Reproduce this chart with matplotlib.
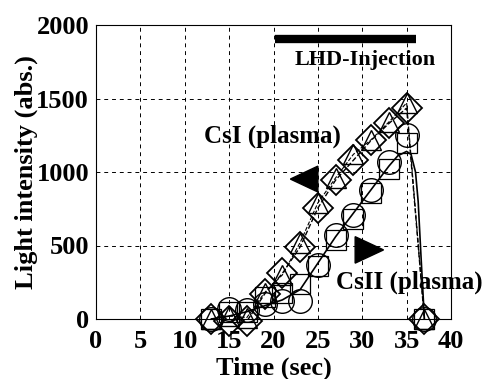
import numpy as np
import matplotlib
matplotlib.use("Agg")
import matplotlib.pyplot as plt

plt.rcParams['font.family'] = ['Liberation Serif', 'DejaVu Serif']
plt.rcParams['font.weight'] = 'bold'

t = [13, 15, 17, 19, 21, 23, 25, 27, 29, 31, 33, 35, 37]

# CsI (plasma)
csi_diamond = [0, -15, -15, 170, 310, 490, 755, 945, 1080, 1215, 1330, 1435, 0]
csi_triangle = [0, 20, 10, 180, 300, 520, 790, 960, 1120, 1220, 1340, 1470, 0]

# CsII (plasma)
csii_circle = [0, 70, 60, 100, 120, 120, 370, 570, 710, 880, 1070, 1250, 0]
csii_square = [0, 50, 50, 150, 180, 240, 360, 540, 680, 860, 1020, 1200, 0]

# smooth fit through CsII
fit_t = [13, 15, 17, 19, 21, 23, 25, 27, 29, 31, 33, 34, 35, 35.5, 36, 36.3, 36.6, 37]
fit_y = [0, 20, 50, 90, 130, 200, 380, 560, 720, 880, 1040, 1110, 1140, 1120, 1000, 800, 450, 0]

bar_start, bar_end, bar_y = 20.2, 36.1, 1905

fig = plt.figure(figsize=(4.86, 3.79), dpi=100)
ax = fig.add_axes([96/486, 60/379, 355/486, 294/379])

ax.plot(fit_t, fit_y, '-', color='black', lw=1.2, zorder=3)
ax.plot(t, csi_diamond, '--', color='black', lw=1.0, zorder=3)
ax.plot(t, csi_triangle, '--', color='black', lw=0.8, zorder=3)

ax.plot(t, csi_diamond, 'D', ms=15, mfc='none', mec='black', mew=1.3, zorder=4, clip_on=False)
ax.plot(t, csi_triangle, '^', ms=14, mfc='none', mec='black', mew=1.0, zorder=4, clip_on=False)
ax.plot(t, csii_circle, 'o', ms=17, mfc='none', mec='black', mew=1.0, zorder=4, clip_on=False)
ax.plot(t, csii_square, 's', ms=14.5, mfc='none', mec='black', mew=0.9, zorder=4, clip_on=False)

ax.plot([bar_start, bar_end], [bar_y, bar_y], '-', color='black', lw=6, solid_capstyle='butt')
ax.text(30.3, 1760, 'LHD-Injection', ha='center', va='center', fontsize=16, fontweight='bold')
ax.text(19.9, 1240, 'CsI (plasma)', ha='center', va='center', fontsize=18, fontweight='bold')
ax.text(35.3, 250, 'CsII (plasma)', ha='center', va='center', fontsize=18, fontweight='bold')

ax.fill([21.9, 25.0, 25.0], [952, 1040, 864], color='black', zorder=5)
ax.fill([32.4, 29.2, 29.2], [470, 560, 380], color='black', zorder=5)

ax.set_xlim(0, 40)
ax.set_ylim(0, 2000)
ax.set_xticks(range(0, 41, 5))
ax.set_yticks(range(0, 2001, 500))
ax.grid(True, ls=(0, (4, 4)), color='black', lw=0.7)
ax.tick_params(length=0, labelsize=19)
ax.tick_params(axis='x', pad=8)
ax.tick_params(axis='y', pad=5)
for lab in ax.get_xticklabels() + ax.get_yticklabels():
    lab.set_fontweight('bold')
for s in ax.spines.values():
    s.set_linewidth(0.8)

ax.set_xlabel('Time (sec)', fontsize=19, fontweight='bold')
ax.xaxis.set_label_coords(0.5, -0.128)
ax.set_ylabel('Light intensity (abs.)', fontsize=19, fontweight='bold', labelpad=-1)

fig.savefig('out.png', dpi=100)
